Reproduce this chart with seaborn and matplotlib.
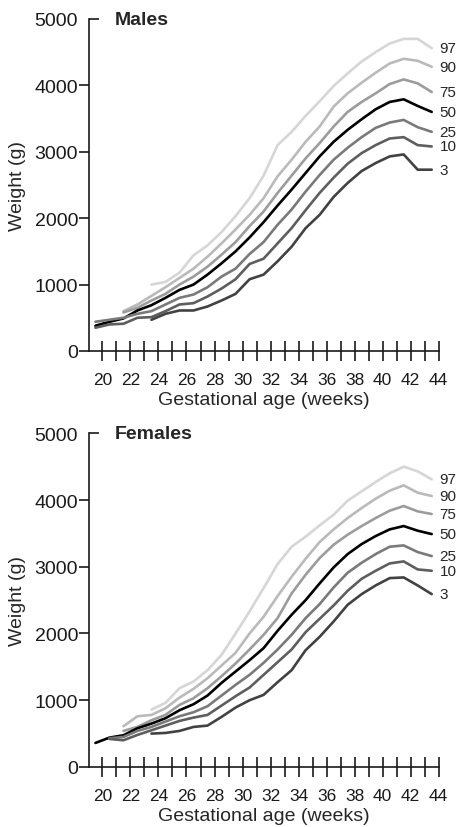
import numpy as np
import pandas as pd
import matplotlib
matplotlib.use('Agg')
import matplotlib.pyplot as plt
import seaborn as sns
from matplotlib.ticker import MultipleLocator, FixedLocator

nan = np.nan

# gestational age (midpoints of completed weeks)
tygodnie = [19.5, 20.5, 21.5, 22.5, 23.5, 24.5, 25.5, 26.5, 27.5, 28.5, 29.5, 30.5,
            31.5, 32.5, 33.5, 34.5, 35.5, 36.5, 37.5, 38.5, 39.5, 40.5, 41.5, 42.5, 43.5]

centyle = ['97', '90', '75', '50', '25', '10', '3']

# Males
m_97 = [nan, nan, nan, nan, 1000, 1040, 1180, 1440, 1590, 1790, 2030, 2300, 2640, 3100,
        3300, 3540, 3760, 3990, 4180, 4360, 4500, 4630, 4700, 4700, 4560]
m_90 = [nan, nan, 600, 700, 830, 960, 1100, 1240, 1420, 1620, 1830, 2050, 2300, 2630,
        2880, 3150, 3380, 3680, 3880, 4040, 4190, 4330, 4400, 4370, 4280]
m_75 = [nan, nan, 580, 650, 760, 860, 1000, 1120, 1270, 1450, 1640, 1880, 2100, 2380,
        2640, 2900, 3130, 3380, 3600, 3750, 3880, 4020, 4090, 4030, 3900]
m_50 = [380, 440, 490, 610, 690, 800, 920, 1000, 1150, 1320, 1500, 1710, 1940, 2190,
        2430, 2680, 2930, 3150, 3330, 3490, 3640, 3750, 3790, 3690, 3600]
m_25 = [440, 470, 500, 560, 600, 700, 800, 850, 960, 1120, 1240, 1460, 1640, 1900,
        2130, 2400, 2650, 2880, 3060, 3220, 3360, 3440, 3480, 3370, 3300]
m_10 = [350, 400, 410, 500, 510, 600, 700, 720, 820, 940, 1080, 1310, 1390, 1620,
        1850, 2120, 2380, 2610, 2820, 2980, 3100, 3200, 3220, 3100, 3080]
m_3 = [nan, nan, nan, nan, 470, 560, 610, 610, 670, 760, 860, 1080, 1150, 1350,
       1570, 1850, 2050, 2320, 2530, 2710, 2830, 2930, 2960, 2730, 2730]

# Females
f_97 = [nan, nan, nan, nan, 860, 960, 1180, 1280, 1450, 1680, 2000, 2330, 2680, 3040,
        3300, 3450, 3620, 3780, 3990, 4130, 4270, 4400, 4500, 4430, 4310]
f_90 = [nan, nan, 610, 760, 780, 880, 1040, 1170, 1330, 1520, 1710, 2000, 2250, 2560,
        2850, 3120, 3370, 3560, 3730, 3880, 4020, 4140, 4220, 4110, 4060]
f_75 = [nan, nan, 540, 600, 700, 780, 930, 1030, 1180, 1360, 1550, 1760, 1980, 2230,
        2600, 2880, 3130, 3330, 3480, 3610, 3730, 3840, 3910, 3830, 3790]
f_50 = [360, 440, 475, 580, 650, 730, 850, 940, 1070, 1260, 1430, 1600, 1780, 2040,
        2280, 2500, 2750, 2990, 3190, 3340, 3460, 3560, 3610, 3540, 3490]
f_25 = [nan, 430, 450, 540, 600, 680, 760, 820, 910, 1070, 1230, 1380, 1560, 1760,
        1980, 2230, 2440, 2690, 2910, 3060, 3190, 3300, 3320, 3220, 3160]
f_10 = [nan, 420, 400, 480, 550, 620, 690, 740, 780, 920, 1060, 1190, 1380, 1570,
        1760, 2020, 2220, 2420, 2640, 2820, 2940, 3050, 3080, 2960, 2940]
f_3 = [nan, nan, nan, nan, 500, 510, 540, 600, 620, 750, 890, 1000, 1080, 1270,
       1450, 1750, 1950, 2180, 2430, 2590, 2720, 2830, 2840, 2720, 2590]

kolory = {'97': '#d6d6d6', '90': '#bababa', '75': '#9c9c9c', '50': '#000000',
          '25': '#7a7a7a', '10': '#5e5e5e', '3': '#424242'}


def tabela(serie):
    wiersze = []
    for c, wartosci in zip(centyle, serie):
        for t, w in zip(tygodnie, wartosci):
            wiersze.append({'tydzien': t, 'waga': w, 'centyl': c})
    return pd.DataFrame(wiersze).dropna()


dane_m = tabela([m_97, m_90, m_75, m_50, m_25, m_10, m_3])
dane_f = tabela([f_97, f_90, f_75, f_50, f_25, f_10, f_3])

sns.set_style('ticks')
plt.rcParams['font.family'] = ['Liberation Sans', 'DejaVu Sans']

fig = plt.figure(figsize=(4.57, 8.28), dpi=100)
ax1 = fig.add_axes([0.195, 0.5749, 0.765, 0.4010])
ax2 = fig.add_axes([0.195, 0.0725, 0.765, 0.4030])

for ax, dane, tytul in [(ax1, dane_m, 'Males'), (ax2, dane_f, 'Females')]:
    sns.lineplot(data=dane, x='tydzien', y='waga', hue='centyl', hue_order=centyle,
                 palette=kolory, linewidth=1.9, ax=ax, legend=False, sort=True)
    ax.set_xlim(19.05, 44)
    ax.set_ylim(0, 5000)
    ax.xaxis.set_major_locator(MultipleLocator(2))
    ax.xaxis.set_minor_locator(MultipleLocator(1))
    ax.yaxis.set_major_locator(FixedLocator([0, 1000, 2000, 3000, 4000]))
    ax.tick_params(axis='x', which='both', direction='inout', length=14, width=1.2,
                   labelsize=12.5, pad=8, colors='#1a1a1a')
    ax.tick_params(axis='y', which='major', direction='out', length=7, width=1.2,
                   labelsize=14, pad=1, colors='#1a1a1a')
    ax.set_yticks([5000], labels=['5000'], minor=True)
    ax.tick_params(axis='y', which='minor', direction='in', length=7, width=1.2,
                   labelsize=14, pad=8, colors='#1a1a1a')
    for s in ['top', 'right']:
        ax.spines[s].set_visible(False)
    for s in ['left', 'bottom']:
        ax.spines[s].set_linewidth(1.2)
        ax.spines[s].set_color('#1a1a1a')
    ax.set_xlabel('Gestational age (weeks)', fontsize=14, labelpad=3)
    ax.set_ylabel('Weight (g)', fontsize=14, labelpad=6)
    ax.text(20.9, 4990, tytul, fontsize=14, fontweight='bold', va='center', ha='left')
    for c in centyle:
        ostatnia = dane[dane['centyl'] == c].sort_values('tydzien')['waga'].iloc[-1]
        ax.text(44.05, ostatnia, c, fontsize=11, va='center', ha='left', clip_on=False)

fig.savefig('out.png', dpi=100)
